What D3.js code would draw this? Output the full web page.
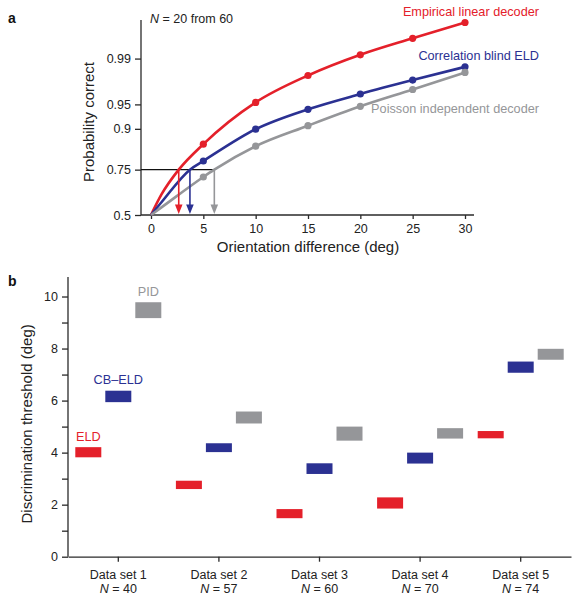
<!DOCTYPE html>
<html>
<head>
<meta charset="utf-8">
<script src="https://cdn.jsdelivr.net/npm/d3@7"></script>
<style>
  html, body { margin: 0; padding: 0; background: #fff; }
  svg { display: block; font-family: "Liberation Sans", Arial, Helvetica, sans-serif; }
</style>
</head>
<body>
<svg id="chart" width="579" height="600"></svg>
<script>
// ---------- Panel a data ----------
const seriesNames = ["Empirical linear decoder", "Correlation blind ELD", "Poisson independent decoder"];
const seriesColors = ["#e4202a", "#2b3192", "#959699"];
const markerX = [5, 10, 15, 20, 25, 30];
const eldP  = [0.854, 0.953, 0.981, 0.9914, 0.9957, 0.9979];
const cbP   = [0.789, 0.899, 0.942, 0.964, 0.9776, 0.9862];
const pidP  = [0.714, 0.847, 0.908, 0.947, 0.969, 0.983];
// thresholds (orientation where P = 0.75)
const thresholds = [2.65, 3.72, 6.05];
// early curve readings near origin
const earlyX = [1, 1, 1];
const earlyP = [0.62, 0.575, 0.545];
const probTicks = [0.5, 0.75, 0.9, 0.95, 0.99];
const probTickLabels = ["0.5", "0.75", "0.9", "0.95", "0.99"];
const orientTicks = [0, 5, 10, 15, 20, 25, 30];

// ---------- Panel b data ----------
const datasets = ["Data set 1", "Data set 2", "Data set 3", "Data set 4", "Data set 5"];
const datasetN = ["40", "57", "60", "70", "74"];
const decoderShort = ["ELD", "CB–ELD", "PID"];
const eldLow  = [3.82, 2.60, 1.48, 1.85, 4.55];
const eldHigh = [4.21, 2.92, 1.83, 2.28, 4.83];
const cbLow   = [5.94, 4.02, 3.18, 3.58, 7.07];
const cbHigh  = [6.38, 4.36, 3.59, 4.00, 7.50];
const pidLow  = [9.17, 5.12, 4.46, 4.54, 7.57];
const pidHigh = [9.78, 5.58, 5.00, 4.94, 7.99];
const thresholdTicks = [0,1,2,3,4,5,6,7,8,9,10];

// ---------- helpers ----------
function probit(p) {
  // Acklam's inverse normal CDF
  const a = [-3.969683028665376e+01, 2.209460984245205e+02, -2.759285104469687e+02, 1.383577518672690e+02, -3.066479806614716e+01, 2.506628277459239e+00];
  const b = [-5.447609879822406e+01, 1.615858368580409e+02, -1.556989798598866e+02, 6.680131188771972e+01, -1.328068155288572e+01];
  const c = [-7.784894002430293e-03, -3.223964580411365e-01, -2.400758277161838e+00, -2.549671669476132e+00, 4.374664141464968e+00, 2.938163982698783e+00];
  const d = [7.784695709041462e-03, 3.224671290700398e-01, 2.445134137142996e+00, 3.754408661907416e+00];
  const pl = 0.02425, ph = 1 - pl;
  let q, r;
  if (p < pl) {
    q = Math.sqrt(-2 * Math.log(p));
    return (((((c[0]*q+c[1])*q+c[2])*q+c[3])*q+c[4])*q+c[5]) / ((((d[0]*q+d[1])*q+d[2])*q+d[3])*q+1);
  } else if (p <= ph) {
    q = p - 0.5; r = q*q;
    return (((((a[0]*r+a[1])*r+a[2])*r+a[3])*r+a[4])*r+a[5])*q / (((((b[0]*r+b[1])*r+b[2])*r+b[3])*r+b[4])*r+1);
  } else {
    q = Math.sqrt(-2 * Math.log(1 - p));
    return -(((((c[0]*q+c[1])*q+c[2])*q+c[3])*q+c[4])*q+c[5]) / ((((d[0]*q+d[1])*q+d[2])*q+d[3])*q+1);
  }
}

const svg = d3.select("#chart");
const axisColor = "#2a2a2a";
const tickFont = "12.5px";

// ================= Panel a =================
const xa = d3.scaleLinear().domain([0, 30]).range([151, 465]);
const za = d3.scaleLinear().domain([0, 2.9]).range([215, 20]);
const ya = p => za(probit(p));

const gA = svg.append("g");

// axes
const yAxisA = d3.axisLeft(za)
  .tickValues(probTicks.map(probit))
  .tickFormat((d, i) => probTickLabels[i])
  .tickSize(6).tickSizeOuter(0);
const gyA = gA.append("g").attr("transform", "translate(141,0)").call(yAxisA);
gyA.select(".domain").attr("d", `M0,${za(2.9)}V${za(0)}`);

const xAxisA = d3.axisBottom(xa).tickValues(orientTicks).tickSize(4).tickSizeOuter(0);
const gxA = gA.append("g").attr("transform", "translate(0,215)").call(xAxisA);
gxA.select(".domain").attr("d", `M${141 - 151 + 151},0H474`);

[gyA, gxA].forEach(g => {
  g.selectAll("path, line").attr("stroke", axisColor).attr("stroke-width", 1.3);
  g.selectAll("text").attr("fill", "#222").style("font-size", tickFont);
});
gyA.selectAll("text").attr("x", -10);
gxA.selectAll("text").attr("y", 9);

// threshold horizontal line
gA.append("line")
  .attr("x1", 141).attr("x2", xa(d3.max(thresholds)))
  .attr("y1", ya(0.75)).attr("y2", ya(0.75))
  .attr("stroke", "#111").attr("stroke-width", 1.1);

// curves
const allP = [eldP, cbP, pidP];
const line = d3.line().x(d => xa(d[0])).y(d => ya(d[1])).curve(d3.curveMonotoneX);
allP.forEach((ps, i) => {
  const pts = [[0, 0.5], [earlyX[i], earlyP[i]], [thresholds[i], 0.75]]
    .concat(markerX.map((x, j) => [x, ps[j]]))
    .sort((a, b) => a[0] - b[0]);
  gA.append("path").datum(pts)
    .attr("d", line)
    .attr("fill", "none")
    .attr("stroke", seriesColors[i])
    .attr("stroke-width", 2.6);
});
// markers (draw after all lines)
allP.forEach((ps, i) => {
  gA.selectAll(null).data(markerX.map((x, j) => [x, ps[j]])).enter()
    .append("circle")
    .attr("cx", d => xa(d[0])).attr("cy", d => ya(d[1]))
    .attr("r", 3.6).attr("fill", seriesColors[i]);
});

// threshold arrows
thresholds.forEach((t, i) => {
  const x = xa(t);
  gA.append("line")
    .attr("x1", x).attr("x2", x)
    .attr("y1", ya(0.75)).attr("y2", 206)
    .attr("stroke", seriesColors[i]).attr("stroke-width", 1.6);
  gA.append("path")
    .attr("d", `M${x - 3.8},${204.5}L${x + 3.8},${204.5}L${x},${214}Z`)
    .attr("fill", seriesColors[i]);
});

// series labels
const labelY = [16, 60, 113];
seriesNames.forEach((n, i) => {
  gA.append("text").attr("x", 539).attr("y", labelY[i])
    .attr("text-anchor", "end").attr("fill", seriesColors[i])
    .style("font-size", "12.7px").text(n);
});

// N label
const nt = gA.append("text").attr("x", 150).attr("y", 23).attr("fill", "#222").style("font-size", "12.5px");
nt.append("tspan").style("font-style", "italic").text("N");
nt.append("tspan").text(" = 20 from 60");

// axis titles
gA.append("text").attr("transform", "translate(94,122) rotate(-90)")
  .attr("text-anchor", "middle").attr("fill", "#222").style("font-size", "15px")
  .text("Probability correct");
gA.append("text").attr("x", 308).attr("y", 252)
  .attr("text-anchor", "middle").attr("fill", "#222").style("font-size", "15px")
  .text("Orientation difference (deg)");

// panel label
svg.append("text").attr("x", 8).attr("y", 23).style("font-size", "14px").style("font-weight", "bold").attr("fill", "#111").text("a");

// ================= Panel b =================
const xb = d3.scaleBand().domain(datasets).range([68, 571]);
const yb = d3.scaleLinear().domain([0, 10.75]).range([556.7, 277]);
const offs = d3.scalePoint().domain(decoderShort).range([-30, 30]);
const gB = svg.append("g");

const yAxisB = d3.axisLeft(yb).tickValues(thresholdTicks)
  .tickFormat(d => d % 2 === 0 ? d : "").tickSize(6).tickSizeOuter(0);
const gyB = gB.append("g").attr("transform", "translate(68,0)").call(yAxisB);
gyB.select(".domain").attr("d", `M0,${yb(10.75)}V${yb(0)}`);

const xAxisB = d3.axisBottom(xb).tickSize(5).tickSizeOuter(0).tickFormat("");
const gxB = gB.append("g").attr("transform", `translate(0,${yb(0)})`).call(xAxisB);

[gyB, gxB].forEach(g => {
  g.selectAll("path, line").attr("stroke", axisColor).attr("stroke-width", 1.3);
  g.selectAll("text").attr("fill", "#222").style("font-size", tickFont);
});
gyB.selectAll("text").attr("x", -10);

// category labels (two lines)
datasets.forEach((ds, i) => {
  const cx = xb(ds) + xb.bandwidth() / 2;
  gB.append("text").attr("x", cx).attr("y", 578.5).attr("text-anchor", "middle")
    .attr("fill", "#222").style("font-size", "12.5px").text(ds);
  const t = gB.append("text").attr("x", cx).attr("y", 593).attr("text-anchor", "middle")
    .attr("fill", "#222").style("font-size", "12.5px");
  t.append("tspan").style("font-style", "italic").text("N");
  t.append("tspan").text(" = " + datasetN[i]);
});

// range bars
const lows = [eldLow, cbLow, pidLow];
const highs = [eldHigh, cbHigh, pidHigh];
const barW = 26;
decoderShort.forEach((dec, k) => {
  gB.selectAll(null).data(datasets.map((ds, i) => ({ ds, lo: lows[k][i], hi: highs[k][i] })))
    .enter().append("rect")
    .attr("x", d => xb(d.ds) + xb.bandwidth() / 2 + offs(dec) - barW / 2)
    .attr("y", d => yb(d.hi))
    .attr("width", barW)
    .attr("height", d => yb(d.lo) - yb(d.hi))
    .attr("fill", seriesColors[k]);
});

// decoder labels above first data set
const decLabelY = [440.7, 383.5, 296];
decoderShort.forEach((dec, k) => {
  gB.append("text")
    .attr("x", xb(datasets[0]) + xb.bandwidth() / 2 + offs(dec))
    .attr("y", decLabelY[k]).attr("text-anchor", "middle")
    .attr("fill", seriesColors[k]).style("font-size", "12.7px").text(dec);
});

gB.append("text").attr("transform", `translate(31.5,${(yb(0) + yb(10.75)) / 2 + 7}) rotate(-90)`)
  .attr("text-anchor", "middle").attr("fill", "#222").style("font-size", "15px")
  .text("Discrimination threshold (deg)");

svg.append("text").attr("x", 8).attr("y", 286).style("font-size", "14px").style("font-weight", "bold").attr("fill", "#111").text("b");
</script>
</body>
</html>
